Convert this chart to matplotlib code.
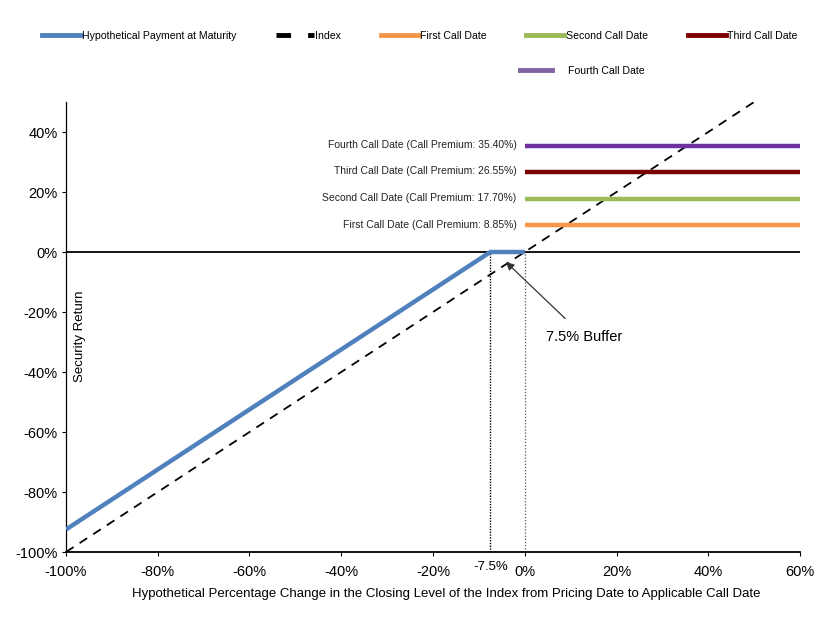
import matplotlib
matplotlib.use("Agg")
import matplotlib.pyplot as plt
from matplotlib.lines import Line2D
from matplotlib.ticker import FuncFormatter
import matplotlib.transforms as mtransforms

plt.rcParams['font.family'] = ['Liberation Sans', 'DejaVu Sans']

# ---- data ----
index_x = [-100, 50]
index_y = [-100, 50]
payment_x = [-100, -7.5, 0]
payment_y = [-92.5, 0, 0]
call_names = ["First Call Date", "Second Call Date", "Third Call Date", "Fourth Call Date"]
call_premiums = [8.85, 17.70, 26.55, 35.40]
call_x = [0, 60]
call_colors = ["#F79646", "#9BBB59", "#7B0000", "#7030A0"]
buffer_level = -7.5
x_ticks = [-100, -80, -60, -40, -20, 0, 20, 40, 60]
y_ticks = [-100, -80, -60, -40, -20, 0, 20, 40]

fig = plt.figure(figsize=(8.38, 6.19), dpi=100)
ax = fig.add_axes([66/838, 1-552/619, (800-66)/838, (552-102)/619])

ax.set_xlim(-100, 60)
ax.set_ylim(-100, 50)

# zero line
ax.axhline(0, color='black', lw=1.3, zorder=2)

# vertical dotted lines
ax.plot([buffer_level, buffer_level], [-100, 0], color='black', lw=1.0, ls=(0, (1, 1)), zorder=1)
ax.plot([0, 0], [-100, 0], color='#555555', lw=0.9, ls=(0, (1, 1.5)), zorder=1)

# index
ax.plot(index_x, index_y, color='black', lw=1.3, ls=(0, (5, 4)), zorder=3)
# payment
ax.plot(payment_x, payment_y, color='#4F81BD', lw=3.2, zorder=4, solid_capstyle='butt')

for name, prem, col in zip(call_names, call_premiums, call_colors):
    ax.plot(call_x, [prem, prem], color=col, lw=3.2, solid_capstyle='butt', zorder=3)
    ax.text(-1.8, prem + 0.3, f"{name} (Call Premium: {prem:.2f}%)", ha='right', va='center',
            fontsize=7.5, color='#222222')

# annotation
ax.annotate("7.5% Buffer", xy=(-4.1, -3.3), xytext=(13, -28.3), ha='center', va='center',
            fontsize=10.5,
            arrowprops=dict(arrowstyle='-|>', color='#333333', lw=0.9, shrinkA=9, shrinkB=0,
                            mutation_scale=12))

# y label inside the axes
ax.text(-96.9, -28, "Security Return", rotation=90, ha='center', va='center', fontsize=9.5)

# spines
for s in ['top', 'right']:
    ax.spines[s].set_visible(False)
ax.spines['left'].set_linewidth(0.9)
ax.spines['bottom'].set_linewidth(1.3)

ax.set_xticks(x_ticks)
ax.set_yticks(y_ticks)
fmt = FuncFormatter(lambda v, p: f"{v:.0f}%")
ax.xaxis.set_major_formatter(fmt)
ax.yaxis.set_major_formatter(fmt)
ax.tick_params(axis='both', direction='out', length=3, width=0.8, labelsize=10.5, pad=3)
ax.tick_params(axis='x', pad=6)

trans = mtransforms.blended_transform_factory(ax.transData, ax.transAxes)
ax.text(buffer_level, -(567-552)/450, "-7.5%", transform=trans, ha='center', va='center', fontsize=9.5)

ax.set_xlabel("Hypothetical Percentage Change in the Closing Level of the Index from Pricing Date to Applicable Call Date",
              fontsize=9.55)
ax.xaxis.set_label_coords((446-66)/734, -(594-552)/450)
ax.xaxis.label.set_va('center')

# legends
h_pay = Line2D([], [], color='#4F81BD', lw=3.5)
h_idx = Line2D([], [], color='black', lw=3.5, ls=(0, (3, 3.5)))
h_calls = [Line2D([], [], color=c, lw=3.5) for c in ["#F79646", "#9BBB59", "#7B0000"]]
h_fourth = Line2D([], [], color='#8064A2', lw=3.5)

leg1 = fig.legend([h_pay, h_idx] + h_calls,
                  ["Hypothetical Payment at Maturity", "Index", "First Call Date", "Second Call Date", "Third Call Date"],
                  loc='center left', bbox_to_anchor=(42/838, 1-36/619), ncol=5, frameon=False,
                  prop={'size': 7.6}, handlelength=3.6, handletextpad=0.15,
                  columnspacing=3.75, borderaxespad=0, borderpad=0)
leg2 = fig.legend([h_fourth], ["Fourth Call Date"], loc='center left',
                  bbox_to_anchor=(520/838, 1-71/619), frameon=False,
                  prop={'size': 7.6}, handlelength=3.0, handletextpad=1.5,
                  borderaxespad=0, borderpad=0)

fig.savefig("out.png", dpi=100)
